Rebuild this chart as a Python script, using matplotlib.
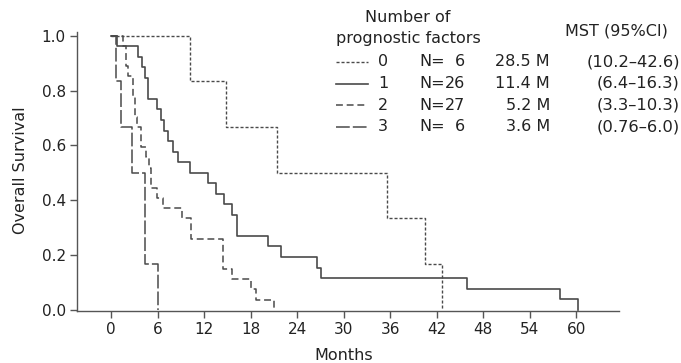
import matplotlib
matplotlib.use("Agg")
import matplotlib.pyplot as plt

# ---- data ----
t0 = [0, 10.2, 14.8, 21.4, 35.6, 40.5, 42.7]
s0 = [1.0, 0.833, 0.667, 0.5, 0.333, 0.167, 0.0]

t1 = [0, 0.8, 3.5, 3.95, 4.4, 4.8, 5.9, 6.5, 6.8, 7.4, 7.95, 8.7, 10.2, 12.5, 13.5,
      14.6, 15.6, 16.3, 20.2, 21.9, 26.6, 27.1, 45.9, 57.9, 60.2]
s1 = [1.0, 0.962, 0.923, 0.885, 0.846, 0.769, 0.731, 0.692, 0.654, 0.615, 0.577, 0.538,
      0.5, 0.462, 0.423, 0.385, 0.346, 0.269, 0.231, 0.192, 0.154, 0.115, 0.077, 0.038, 0.0]

t2 = [0, 1.5, 2.0, 2.2, 2.8, 3.1, 3.4, 3.9, 4.5, 4.95, 5.2, 5.9, 6.7, 9.1, 10.3, 14.4,
      15.6, 18.0, 18.7, 21.0]
s2 = [1.0, 0.963, 0.889, 0.852, 0.778, 0.704, 0.667, 0.593, 0.556, 0.519, 0.444, 0.407,
      0.370, 0.333, 0.259, 0.148, 0.111, 0.074, 0.037, 0.0]

t3 = [0, 0.6, 1.3, 2.7, 4.4, 6.0]
s3 = [1.0, 0.833, 0.667, 0.5, 0.167, 0.0]

groups = ["0", "1", "2", "3"]
n_labels = ["6", "26", "27", "6"]
mst = ["28.5 M", "11.4 M", "5.2 M", "3.6 M"]
ci = ["(10.2\u201342.6)", "(6.4\u201316.3)", "(3.3\u201310.3)", "(0.76\u20136.0)"]

xticks = [0, 6, 12, 18, 24, 30, 36, 42, 48, 54, 60]
yticks = [0.0, 0.2, 0.4, 0.6, 0.8, 1.0]

# ---- style ----
plt.rcParams['font.family'] = ['DejaVu Sans']
LC = '#4a4a4a'
TC = '#222222'
styles = [
    dict(lw=1.0, ls=(0, (2.2, 1.4))),
    dict(lw=1.2, ls='-'),
    dict(lw=1.1, ls=(0, (4.5, 2.5))),
    dict(lw=1.1, ls=(0, (9, 2))),
]

W, H = 681, 363
fig = plt.figure(figsize=(W / 100, H / 100), dpi=100)
L, R, T, B = 77, 619, 31.7, 310.7
ax = fig.add_axes([L / W, 1 - B / H, (R - L) / W, (B - T) / H])

for t, s, st in zip([t0, t1, t2, t3], [s0, s1, s2, s3], styles):
    ax.step(t, s, where='post', color=LC, **st)

ax.set_xlim(-4.38, 65.5)
ax.set_ylim(-0.0036, 1.0146)
ax.set_xticks(xticks)
ax.set_yticks(yticks)
ax.set_yticklabels([f"{v:.1f}" for v in yticks])
for side in ['top', 'right']:
    ax.spines[side].set_visible(False)
for side in ['left', 'bottom']:
    ax.spines[side].set_color('#555555')
    ax.spines[side].set_linewidth(1.0)
ax.tick_params(axis='both', direction='out', length=5, width=1.0, color='#555555',
               labelsize=11, labelcolor=TC, pad=3)

fig.text(21 / W, 1 - 170 / H, "Overall Survival", rotation=90, ha='center', va='center',
         fontsize=11.5, color=TC)
fig.text(344 / W, 1 - 355 / H, "Months", ha='center', va='center', fontsize=11.5, color=TC)

# ---- legend table ----
def ftxt(x, y, s, ha='left', size=11.5):
    fig.text(x / W, 1 - y / H, s, ha=ha, va='center', fontsize=size, color=TC)

ftxt(408, 18, "Number of", ha='center')
ftxt(408, 38, "prognostic factors", ha='center')
ftxt(616, 31, "MST (95%CI)", ha='center')

rows_y = [62, 83.5, 105, 126.5]
for i, y in enumerate(rows_y):
    fig.add_artist(plt.Line2D([336 / W, 368 / W], [1 - y / H, 1 - y / H],
                              color=LC, transform=fig.transFigure, **styles[i]))
    ftxt(383, y, groups[i], ha='center')
    ftxt(419, y, "N=")
    ftxt(465, y, n_labels[i], ha='right')
    ftxt(550, y, mst[i], ha='right')
    ftxt(680, y, ci[i], ha='right', size=11.8)

fig.savefig("out.png", dpi=100)
